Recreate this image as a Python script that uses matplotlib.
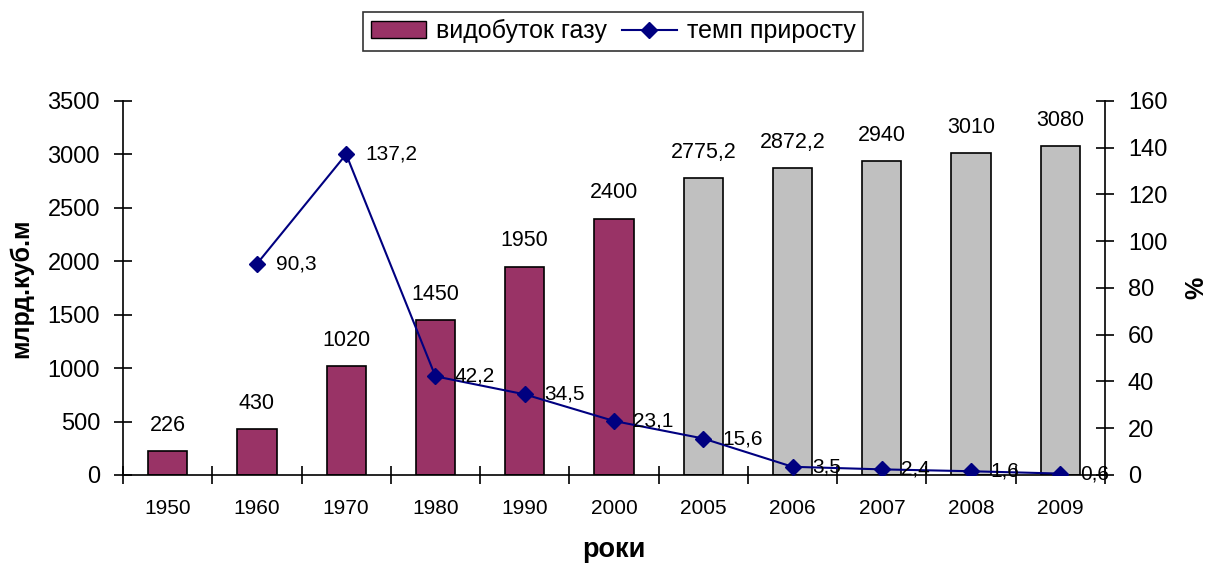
import matplotlib.pyplot as plt
import numpy as np

plt.rcParams['font.family'] = ['Liberation Sans', 'DejaVu Sans']

years = ['1950', '1960', '1970', '1980', '1990', '2000', '2005', '2006', '2007', '2008', '2009']
production = [226, 430, 1020, 1450, 1950, 2400, 2775.2, 2872.2, 2940, 3010, 3080]
prod_labels = ['226', '430', '1020', '1450', '1950', '2400', '2775,2', '2872,2', '2940', '3010', '3080']
growth = [np.nan, 90.3, 137.2, 42.2, 34.5, 23.1, 15.6, 3.5, 2.4, 1.6, 0.6]
growth_labels = ['', '90,3', '137,2', '42,2', '34,5', '23,1', '15,6', '3,5', '2,4', '1,6', '0,6']

maroon = '#993366'
grey = '#C0C0C0'
navy = '#000080'

fig = plt.figure(figsize=(12.09, 5.67), dpi=100)
ax = fig.add_axes([0.1017, 0.1623, 0.8123, 0.6596])
x = np.arange(len(years))
colors = [maroon] * 6 + [grey] * 5
ax.bar(x, production, width=0.44, color=colors, edgecolor='black', linewidth=1.2, zorder=2)
for xi, v, lab in zip(x, production, prod_labels):
    ax.annotate(lab, (xi, v), xytext=(0, 11), textcoords='offset points',
                ha='center', va='bottom', fontsize=15.5)

ax.set_xlim(-0.5, len(years) - 0.5)
ax.set_ylim(0, 3500)
ax.set_yticks(range(0, 3501, 500))
ax.set_xticks(x)
ax.set_xticklabels(years, fontsize=15)
ax.set_xticks(np.arange(-0.5, len(years), 1), minor=True)
ax.tick_params(axis='x', which='major', length=0, pad=17)
ax.tick_params(axis='x', which='minor', length=13, direction='inout', width=1.2)
ax.tick_params(axis='y', labelsize=17, direction='inout', length=13, width=1.2, pad=10)
for s in ['top', 'right']:
    ax.spines[s].set_visible(False)
for s in ['left', 'bottom']:
    ax.spines[s].set_linewidth(1.2)
ax.set_ylabel('млрд.куб.м', fontsize=18, fontweight='bold', labelpad=10)
ax.set_xlabel('роки', fontsize=19.5, fontweight='bold', labelpad=14)

ax2 = ax.twinx()
ax2.set_ylim(0, 160)
ax2.set_yticks(range(0, 161, 20))
ax2.plot(x, growth, color=navy, marker='D', markersize=8, linewidth=1.5, zorder=3)
for xi, v, lab in zip(x, growth, growth_labels):
    if lab:
        ax2.annotate(lab, (xi, v), xytext=(14, 0), textcoords='offset points',
                     ha='left', va='center', fontsize=15)
for s in ['top', 'left', 'bottom']:
    ax2.spines[s].set_visible(False)
ax2.spines['right'].set_linewidth(1.2)
ax2.tick_params(axis='y', labelsize=17, direction='inout', length=13, width=1.2, pad=10)
ax2.set_ylabel('%', fontsize=18, fontweight='bold', labelpad=12)

handles = [plt.Rectangle((0, 0), 1, 1, facecolor=maroon, edgecolor='black'),
           plt.Line2D([], [], color=navy, marker='D', markersize=8, linewidth=1.5)]
leg = fig.legend(handles, ['видобуток газу', 'темп приросту'], loc='upper center',
                 bbox_to_anchor=(0.507, 0.979), ncol=2, fontsize=18, frameon=True,
                 fancybox=False, edgecolor='black', handlelength=2.2,
                 columnspacing=0.6, handletextpad=0.4, borderpad=0.3, borderaxespad=0)
leg.get_frame().set_linewidth(1.2)

fig.savefig('out.png', dpi=100)
